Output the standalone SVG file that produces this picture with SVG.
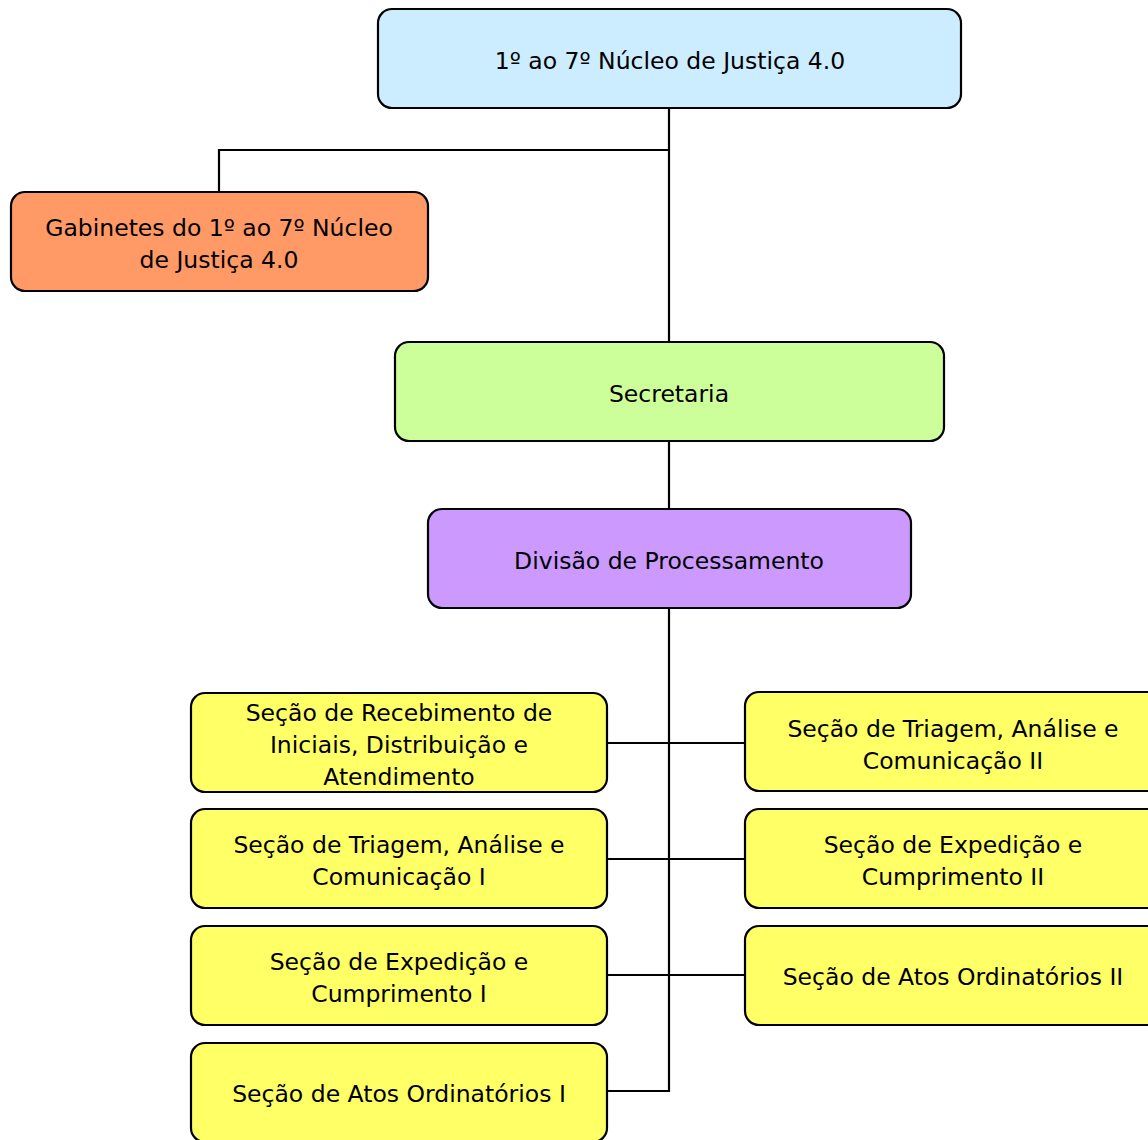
<svg xmlns="http://www.w3.org/2000/svg" width="1148" height="1140" viewBox="0 0 1148 1140">
<style>
.box{stroke:#000;stroke-width:2.2}
.t{font-family:"DejaVu Sans","Liberation Sans",sans-serif;font-size:23.5px;fill:#000;text-anchor:middle}
.c{fill:none;stroke:#000;stroke-width:2.2}
.y{fill:#FFFF66}
</style>
<rect width="1148" height="1140" fill="#fff"/>
<g id="connectors">
<path class="c" d="M669,108 V1091 H607"/>
<path class="c" d="M669,150 H219 V192"/>
<path class="c" d="M607,743 H745"/>
<path class="c" d="M607,859 H745"/>
<path class="c" d="M607,975 H745"/>
</g>
<g id="n1"><rect class="box" x="378" y="9" width="583" height="99" rx="14" fill="#CCECFF"/><text class="t" x="670" y="69">1º ao 7º Núcleo de Justiça 4.0</text></g>
<g id="n2"><rect class="box" x="11" y="192" width="417" height="99" rx="14" fill="#FF9966"/><text class="t" x="219" y="236">Gabinetes do 1º ao 7º Núcleo</text><text class="t" x="219" y="268">de Justiça 4.0</text></g>
<g id="n3"><rect class="box" x="395" y="342" width="549" height="99" rx="14" fill="#CCFF99"/><text class="t" x="669" y="402">Secretaria</text></g>
<g id="n4"><rect class="box" x="428" y="509" width="483" height="99" rx="14" fill="#CC99FF"/><text class="t" x="669" y="569">Divisão de Processamento</text></g>
<g id="n5"><rect class="box y" x="191" y="693" width="416" height="99" rx="14"/><text class="t" x="399" y="721">Seção de Recebimento de</text><text class="t" x="399" y="753">Iniciais, Distribuição e</text><text class="t" x="399" y="785">Atendimento</text></g>
<g id="n6"><rect class="box y" x="191" y="809" width="416" height="99" rx="14"/><text class="t" x="399" y="853">Seção de Triagem, Análise e</text><text class="t" x="399" y="885">Comunicação I</text></g>
<g id="n7"><rect class="box y" x="191" y="926" width="416" height="99" rx="14"/><text class="t" x="399" y="970">Seção de Expedição e</text><text class="t" x="399" y="1002">Cumprimento I</text></g>
<g id="n8"><rect class="box y" x="191" y="1043" width="416" height="99" rx="14"/><text class="t" x="399" y="1102">Seção de Atos Ordinatórios I</text></g>
<g id="n9"><rect class="box y" x="745" y="692" width="417" height="99" rx="14"/><text class="t" x="953" y="737">Seção de Triagem, Análise e</text><text class="t" x="953" y="769">Comunicação II</text></g>
<g id="n10"><rect class="box y" x="745" y="809" width="417" height="99" rx="14"/><text class="t" x="953" y="853">Seção de Expedição e</text><text class="t" x="953" y="885">Cumprimento II</text></g>
<g id="n11"><rect class="box y" x="745" y="926" width="417" height="99" rx="14"/><text class="t" x="953" y="985">Seção de Atos Ordinatórios II</text></g>
</svg>
